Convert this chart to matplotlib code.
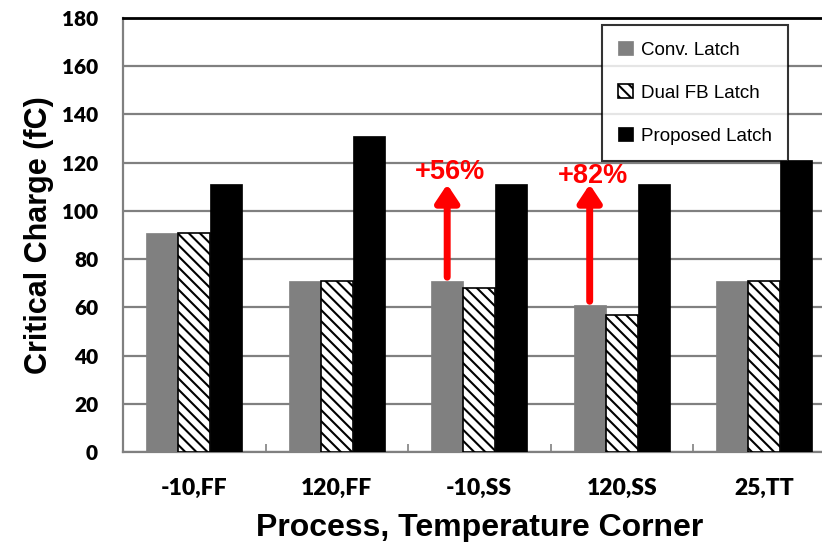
import numpy as np
import matplotlib
matplotlib.use("Agg")
from matplotlib import pyplot as plt

# critical charge per corner for the three latch designs
corners = ['-10,FF', '120,FF', '-10,SS', '120,SS', '25,TT']
conv = [91, 71, 71, 61, 71]
dual_fb = [91, 71, 68, 57, 71]
proposed = [111, 131, 111, 111, 121]

# improvement arrows: corner index and label
gain_idx = [2, 3]
gain_txt = ['+56%', '+82%']
gain_lift = [5.0, 3.5]   # label height above the arrow tip

plt.rcParams['hatch.linewidth'] = 1.5

fig = plt.figure(figsize=(8.22, 5.42), dpi=100)
ax = fig.add_axes([123/822, 1-452/542, 712.5/822, 434/542])

x = np.arange(len(corners))
w = 0.225
ax.bar(x - w, conv, w, color='#808080', edgecolor='#808080', lw=0.5, label='Conv. Latch', zorder=3)
ax.bar(x, dual_fb, w, color='white', edgecolor='black', hatch='\\\\\\', lw=1.2, label='Dual FB Latch', zorder=3)
ax.bar(x + w, proposed, w, color='black', edgecolor='black', lw=0.5, label='Proposed Latch', zorder=3)

for i, txt, lift in zip(gain_idx, gain_txt, gain_lift):
    ax.annotate('', xy=(x[i] - w, proposed[i]), xytext=(x[i] - w, conv[i] + 1.5),
                arrowprops=dict(arrowstyle='-|>,head_length=0.75,head_width=0.5',
                                color='#ff0000', lw=5, shrinkA=0, shrinkB=0,
                                mutation_scale=14), zorder=5)
    ax.text(x[i] - w + 0.02, proposed[i] + lift, txt, color='#ff0000', ha='center', va='center',
            fontsize=19.5, fontweight='bold', family='Liberation Sans', zorder=5)

ax.set_xlim(-0.5, len(corners) - 0.5)
ax.set_ylim(0, 180)
ax.set_yticks(np.arange(0, 181, 20))
ax.yaxis.grid(True, color='#808080', lw=1.6, zorder=0)
ax.set_axisbelow(True)

ax.set_xticks(x)
ax.set_xticklabels(corners)
ax.set_xticks(np.arange(0.5, len(corners) - 0.5, 1), minor=True)
ax.tick_params(axis='x', which='major', length=0, pad=19)
ax.tick_params(axis='x', which='minor', direction='in', length=6, width=1.2, color='#808080')
ax.tick_params(axis='y', length=0, pad=18)
for lab in ax.get_xticklabels():
    lab.set_family('Lato')
    lab.set_fontweight('heavy')
    lab.set_fontsize(16.5)
for lab in ax.get_yticklabels():
    lab.set_family('Lato')
    lab.set_fontweight('heavy')
    lab.set_fontsize(15)

for s in ['left', 'bottom']:
    ax.spines[s].set_color('#808080')
    ax.spines[s].set_linewidth(1.6)
ax.spines['top'].set_color('black')
ax.spines['top'].set_linewidth(2)
ax.spines['right'].set_visible(False)

ax.set_ylabel('Critical Charge (fC)', fontsize=22, fontweight='bold', family='Liberation Sans', labelpad=6)
ax.set_xlabel('Process, Temperature Corner', fontsize=23, fontweight='bold', family='Liberation Sans', labelpad=10)

leg = fig.legend(loc='upper left', bbox_to_anchor=(602/822, 1-25/542),
                 prop={'family': 'Liberation Sans', 'size': 13.5},
                 handlelength=0.8, handleheight=0.8, labelspacing=1.35, handletextpad=0.45,
                 borderpad=0.85, borderaxespad=0, fancybox=False, frameon=True)
leg.get_frame().set_edgecolor('black')
leg.get_frame().set_linewidth(1.5)

plt.savefig('out.png', dpi=100)
